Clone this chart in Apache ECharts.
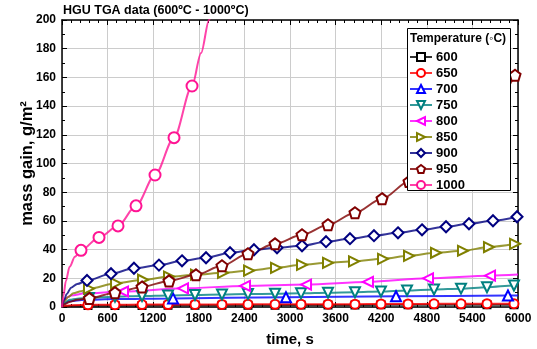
<!DOCTYPE html>
<html>
<head>
<meta charset="utf-8">
<script src="https://cdn.jsdelivr.net/npm/echarts@6/dist/echarts.min.js"></script>
<style>
  html, body { margin: 0; padding: 0; background: #fff; }
  #chart { width: 537px; height: 349px; }
</style>
</head>
<body>
<div id="chart"></div>
<script>
// temperatures (legend names)
const temps = ["600", "650", "700", "750", "800", "850", "900", "950", "1000"];
const xTicks = [0, 600, 1200, 1800, 2400, 3000, 3600, 4200, 4800, 5400, 6000];

// curve-only points (no marker) and marker points, time in s / mass gain in g/m2
const c600T = [0, 40, 150, 6000];
const c600M = [0, 0.5, 0.8, 1.5];
const k600T = [342, 697, 1053, 1395, 1750, 2105, 2447, 2803, 3145, 3500, 3855, 4197, 4553, 4895, 5250, 5592, 5947];
const k600M = [1.0, 1.1, 1.1, 1.2, 1.2, 1.3, 1.3, 1.3, 1.4, 1.4, 1.4, 1.5, 1.5, 1.5, 1.6, 1.6, 1.6];

const c650T = [0, 40, 150, 6000];
const c650M = [0, 0.9, 1.3, 2.3];
const k650T = [342, 697, 1053, 1395, 1750, 2105, 2447, 2803, 3145, 3500, 3855, 4197, 4553, 4895, 5250, 5592, 5947];
const k650M = [1.5, 1.6, 1.7, 1.7, 1.8, 1.8, 1.9, 1.9, 2.0, 2.0, 2.0, 2.1, 2.1, 2.2, 2.2, 2.3, 2.3];

const c700T = [0, 30, 100, 300, 700, 6000];
const c700M = [0, 2.5, 4, 5, 5.5, 8.0];
const k700T = [1461, 2947, 4395, 5868];
const k700M = [6.0, 6.8, 7.5, 8.0];

const c750T = [0, 30, 100, 200, 6000];
const c750M = [0, 3, 5, 5.8, 15.2];
const k750T = [355, 697, 1053, 1395, 1750, 2105, 2447, 2803, 3145, 3500, 3855, 4197, 4540, 4895, 5250, 5592, 5947];
const k750M = [6.3, 7.2, 7.7, 8.1, 8.4, 8.7, 9.0, 9.2, 9.5, 10.0, 10.3, 10.8, 11.5, 12.2, 12.8, 13.8, 15.0];

const c800T = [0, 20, 60, 120, 300, 6000];
const c800M = [0, 4, 6.5, 8, 9.5, 22.6];
const k800T = [803, 1592, 2408, 3211, 4026, 4816, 5632];
const k800M = [10.8, 13.0, 14.7, 15.6, 17.5, 20.0, 21.8];

const c850T = [0, 30, 80, 150, 250];
const c850M = [0, 4, 7, 9.5, 11];
const k850T = [355, 711, 1066, 1408, 1763, 2118, 2461, 2816, 3158, 3500, 3842, 4224, 4566, 4921, 5276, 5618, 5961];
const k850M = [12.8, 16.5, 19.0, 21.2, 22.5, 23.8, 25.4, 27.3, 29.4, 30.8, 31.8, 33.6, 35.7, 37.8, 39.2, 41.8, 44.0];

const c900T = [0, 30, 60, 120, 200];
const c900M = [0, 5, 9, 13.5, 16];
const k900T = [329, 645, 947, 1276, 1579, 1895, 2211, 2526, 2829, 3158, 3474, 3789, 4105, 4421, 4737, 5053, 5355, 5671, 5987];
const k900M = [18.5, 23.2, 27.0, 29.2, 32.2, 34.3, 37.8, 39.9, 41.3, 42.7, 45.5, 47.6, 49.7, 51.7, 53.8, 55.9, 58.0, 60.1, 62.9];

const c950T = [0, 30, 100, 200];
const c950M = [0, 2, 3.5, 5];
const k950T = [360, 697, 1053, 1408, 1763, 2105, 2447, 2803, 3158, 3500, 3855, 4211, 4566, 4921, 5276, 5618, 5961];
const k950M = [6.0, 10.0, 14.0, 18.2, 22.4, 28.7, 37.1, 44.0, 50.3, 57.3, 65.7, 75.5, 87.4, 101, 118, 138, 161.5];

const c1000T = [0, 20, 50, 100, 170, 1830, 1935, 2000];
const c1000M = [0, 8, 18, 28, 35, 177, 200, 214];
const k1000T = [250, 487, 737, 974, 1224, 1474, 1711];
const k1000M = [39.5, 48.5, 56.5, 70.5, 92, 118, 154];

const curveT = [c600T, c650T, c700T, c750T, c800T, c850T, c900T, c950T, c1000T];
const curveM = [c600M, c650M, c700M, c750M, c800M, c850M, c900M, c950M, c1000M];
const markT = [k600T, k650T, k700T, k750T, k800T, k850T, k900T, k950T, k1000T];
const markM = [k600M, k650M, k700M, k750M, k800M, k850M, k900M, k950M, k1000M];

const colors = ["#000000", "#ff0000", "#0000ff", "#008080", "#ff00ff", "#808000", "#000080", "#800000", "#ff1493"];
const pentagon = "path://M0,-10L9.51,-3.09L5.88,8.09L-5.88,8.09L-9.51,-3.09Z";
const symbols = ["rect", "circle", "triangle", "triangle", "triangle", "triangle", "diamond", pentagon, "circle"];
const rotates = [0, 0, 0, 180, 90, -90, 0, 0, 0];
const sizes = [7, 9, 10, 10, 10, 10, 11, 11, 11];

const FONT = "Liberation Sans";

function buildData(i) {
  const a = curveT[i].map((t, j) => ({ value: [t, curveM[i][j]], symbol: "none" }));
  const b = markT[i].map((t, j) => ({ value: [t, markM[i][j]] }));
  return a.concat(b).sort((p, q) => p.value[0] - q.value[0]);
}

const series = temps.map((name, i) => ({
  name: name,
  type: "line",
  smooth: 0.3,
  smoothMonotone: "x",
  showSymbol: true,
  showAllSymbol: true,
  symbol: symbols[i],
  symbolSize: sizes[i],
  symbolRotate: rotates[i],
  lineStyle: { color: colors[i], width: 2, opacity: 0.8 },
  itemStyle: { color: "#fff", borderColor: colors[i], borderWidth: 2 },
  emphasis: { disabled: true },
  data: buildData(i)
}));

const labelStyle = { fontFamily: FONT, fontWeight: "bold", fontSize: 12, color: "#000" };

const chart = echarts.init(document.getElementById("chart"));
chart.setOption({
  animation: false,
  backgroundColor: "#fff",
  title: {
    text: "HGU TGA data (600ºC - 1000ºC)",
    left: 63, top: 4, padding: 0,
    textStyle: { fontFamily: FONT, fontWeight: "bold", fontSize: 12.5, color: "#000" }
  },
  grid: { left: 62, right: 19, top: 20, bottom: 42, outerBoundsMode: "none", containLabel: false },
  xAxis: [{
    type: "value", min: 0, max: 6000, interval: 600,
    name: "time, s", nameLocation: "middle", nameGap: 25, nameMoveOverlap: false,
    nameTextStyle: { fontFamily: FONT, fontWeight: "bold", fontSize: 15, color: "#000" },
    axisLine: { onZero: false, lineStyle: { color: "#000", width: 1.5 } },
    axisTick: { inside: true, length: 5, lineStyle: { color: "#000", width: 1 } },
    minorTick: { show: true, splitNumber: 5, length: 3, lineStyle: { color: "#000" } },
    axisLabel: Object.assign({ margin: 6, formatter: (v) => xTicks.includes(v) ? String(v) : "" }, labelStyle),
    splitLine: { show: true, lineStyle: { color: "#cccccc", width: 1 } }
  }, {
    type: "value", min: 0, max: 6000, interval: 600, position: "top",
    axisLine: { onZero: false, lineStyle: { color: "#000", width: 1.5 } },
    axisTick: { inside: true, length: 5, lineStyle: { color: "#000" } },
    minorTick: { show: true, splitNumber: 5, length: 3, lineStyle: { color: "#000" } },
    axisLabel: { show: false },
    splitLine: { show: false }
  }],
  yAxis: [{
    type: "value", min: 0, max: 200, interval: 20,
    name: "mass gain, g/m²", nameLocation: "middle", nameGap: 26, nameMoveOverlap: false,
    nameTextStyle: { fontFamily: FONT, fontWeight: "bold", fontSize: 16.5, color: "#000" },
    axisLine: { show: true, onZero: false, lineStyle: { color: "#000", width: 1.5 } },
    axisTick: { show: true, inside: true, length: 5, lineStyle: { color: "#000" } },
    minorTick: { show: true, splitNumber: 2, length: 3, lineStyle: { color: "#000" } },
    axisLabel: Object.assign({ margin: 6 }, labelStyle),
    splitLine: { show: true, lineStyle: { color: "#cccccc", width: 1 } }
  }, {
    type: "value", min: 0, max: 200, interval: 20, position: "right",
    axisLine: { show: true, onZero: false, lineStyle: { color: "#000", width: 1.5 } },
    axisTick: { show: true, inside: true, length: 5, lineStyle: { color: "#000" } },
    minorTick: { show: true, splitNumber: 2, length: 3, lineStyle: { color: "#000" } },
    axisLabel: { show: false },
    splitLine: { show: false }
  }],
  graphic: [{
    type: "rect", z: 50,
    shape: { x: 407.5, y: 28.5, width: 103, height: 162 },
    style: { fill: "#fff", stroke: "#000", lineWidth: 1 }
  }, {
    type: "text", z: 51, left: 410, top: 33,
    style: { text: "Temperature (◦C)", fill: "#000", font: "bold 12px 'Liberation Sans'" }
  }],
  legend: {
    z: 60,
    orient: "vertical",
    left: 409, top: 50,
    padding: 0,
    itemWidth: 22, itemHeight: 10, itemGap: 2,
    textStyle: { fontFamily: FONT, fontWeight: "bold", fontSize: 13, color: "#000", lineHeight: 14, padding: [0, 0, 0, -1] },
    data: temps
  },
  series: series
});
</script>
</body>
</html>
